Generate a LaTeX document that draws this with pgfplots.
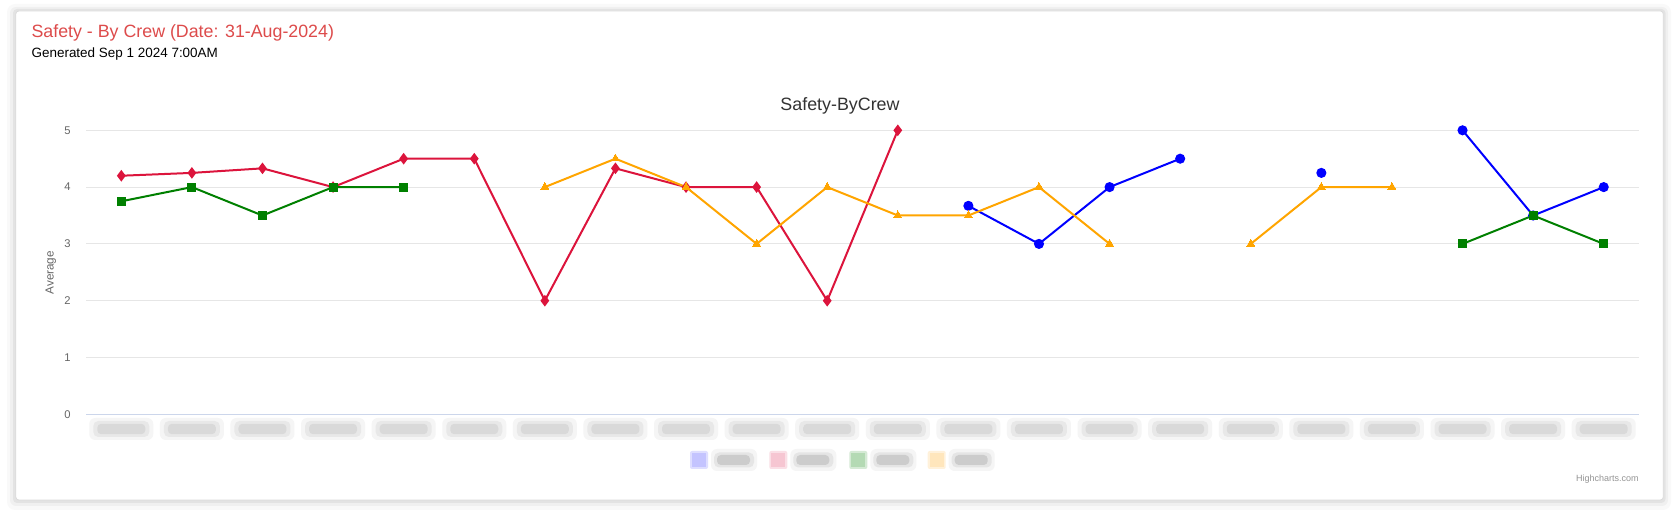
\documentclass[border=0pt]{standalone}
\usepackage{pgfplots}
\pgfplotsset{compat=1.18}
\usepackage{pgfplotstable}
\usepackage{fontspec}
\setmainfont{Liberation Sans}
\definecolor{titlec}{HTML}{DD4B4B}
\definecolor{ctitle}{HTML}{333333}
\definecolor{lab}{HTML}{666666}
\definecolor{gridc}{HTML}{E6E6E6}
\definecolor{axisc}{HTML}{CCD6EB}
\definecolor{sblue}{HTML}{0000FF}
\definecolor{sred}{HTML}{DC143C}
\definecolor{sgreen}{HTML}{008000}
\definecolor{sorange}{HTML}{FFA500}
\pgfplotstableread{
cat blue red green orange
0 nan 4.2 3.75 nan
1 nan 4.25 4 nan
2 nan 4.33 3.5 nan
3 nan 4 4 nan
4 nan 4.5 4 nan
5 nan 4.5 nan nan
6 nan 2 nan 4
7 nan 4.33 nan 4.5
8 nan 4 nan 4
9 nan 4 nan 3
10 nan 2 nan 4
11 nan 5 nan 3.5
12 3.67 nan nan 3.5
13 3 nan nan 4
14 4 nan nan 3
15 4.5 nan nan nan
16 nan nan nan 3
17 4.25 nan nan 4
18 nan nan nan 4
19 5 nan 3 nan
20 3.5 nan 3.5 nan
21 4 nan 3 nan
}\crew
\newcommand{\blurlabel}{\tikz[baseline=0pt,x=1pt,y=1pt]{%
\fill[black!4,rounded corners=3pt] (-16pt,-5.5pt) rectangle (16pt,5.5pt);%
\fill[black!9,rounded corners=2.5pt] (-14pt,-4pt) rectangle (14pt,4pt);%
\fill[black!15,rounded corners=2pt] (-12pt,-2.6pt) rectangle (12pt,2.6pt);}}
\begin{document}
\begin{tikzpicture}[x=0.5pt,y=-0.5pt]
\path[use as bounding box] (0,0) rectangle (1680,512);
\fill[white] (0,0) rectangle (1680,512);
% card shadow
\fill[black,opacity=0.025,rounded corners=4pt] (7,4) rectangle (1671,510);
\fill[black,opacity=0.035,rounded corners=3pt] (10,7) rectangle (1668,506);
\fill[black,opacity=0.05,rounded corners=2pt] (13,9) rectangle (1665.5,503);
\fill[white,draw=black!14,line width=0.4pt,rounded corners=1.5pt] (15.8,11) rectangle (1663.3,500);
% titles
\node[anchor=base west,inner sep=0pt,text=titlec,font=\fontsize{8.9pt}{10.5pt}\selectfont] at (31.2,37.6) {Safety - By Crew (Date: 31-Aug-2024)};
\node[anchor=base west,inner sep=0pt,text=black,font=\fontsize{6.73pt}{8pt}\selectfont] at (31.2,57.6) {Generated Sep 1 2024 7:00AM};
\node[anchor=base,inner sep=0pt,text=ctitle,font=\fontsize{8.93pt}{10.5pt}\selectfont] at (840,110.7) {Safety-ByCrew};
\node[rotate=90,anchor=center,inner sep=0pt,text=lab,font=\fontsize{5.85pt}{7pt}\selectfont] at (50.7,272.7) {Average};
\node[anchor=base east,inner sep=0pt,text=black!42,font=\fontsize{4.5pt}{5.5pt}\selectfont] at (1639,481) {Highcharts.com};
\begin{axis}[
  at={(43pt,-207.15pt)}, anchor=south west,
  scale only axis, width=776.5pt, height=142pt,
  xmin=-0.5, xmax=21.5, ymin=0, ymax=5,
  xtick={0,...,21}, ytick={0,1,2,3,4,5},
  xticklabel={\blurlabel},
  xticklabel style={anchor=center,inner sep=0pt,yshift=-7.35pt},
  yticklabel style={anchor=east,inner sep=0pt,xshift=-7.5pt,text=lab,font=\fontsize{5.6pt}{6.5pt}\selectfont},
  /pgf/number format/assume math mode=true,
  ymajorgrids, grid style={color=gridc,line width=0.5pt},
  axis x line*=bottom, axis y line*=left,
  x axis line style={draw=axisc,line width=0.5pt,-},
  y axis line style={draw=none},
  major tick length=0pt,
  unbounded coords=jump,
  clip=false,
  every axis plot/.append style={line width=1pt},
]
\addplot[color=sblue, mark=*, mark size=2pt, mark options={solid,fill=sblue,draw=sblue}] table[x=cat,y=blue] {\crew};
\addplot[color=sred, mark=diamond*, mark size=2.1pt, mark options={solid,fill=sred,draw=sred}] table[x=cat,y=red] {\crew};
\addplot[color=sgreen, mark=square*, mark size=2pt, mark options={solid,fill=sgreen,draw=sgreen,line width=0pt}] table[x=cat,y=green] {\crew};
\addplot[color=sorange, mark=triangle*, mark size=2.3pt, mark options={solid,fill=sorange,draw=sorange,line width=0pt}] table[x=cat,y=orange] {\crew};
\end{axis}
% legend (symbols and blurred labels)
\foreach \cx/\col in {699/C4C4FF,778.3/F6C6D2,858.3/B4DAB4,936.7/FFE6BC}{
  \definecolor{lc}{HTML}{\col}
  \fill[lc,opacity=0.55,rounded corners=1pt] (\cx-9,451) rectangle (\cx+9,469);
  \fill[lc] (\cx-7,453) rectangle (\cx+7,467);
  \fill[black!4,rounded corners=3pt] (\cx+12,449) rectangle (\cx+58,471);
  \fill[black!10,rounded corners=2.5pt] (\cx+15,452.5) rectangle (\cx+55,467.5);
  \fill[black!20,rounded corners=2pt] (\cx+18,455) rectangle (\cx+51,465);
}
\end{tikzpicture}
\end{document}
